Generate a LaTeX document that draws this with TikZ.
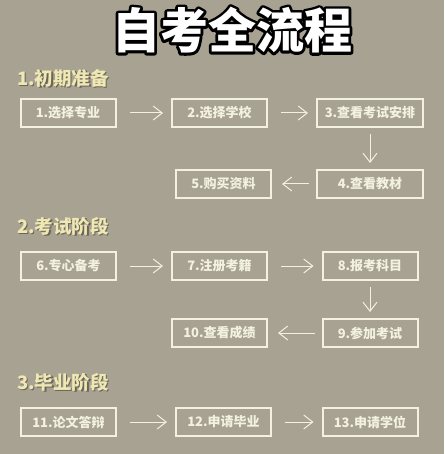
\documentclass[tikz,border=0pt]{standalone}
\usepackage{fontspec}
\usepackage{xcolor}
\usepackage{tikz}
\usetikzlibrary{arrows.meta,positioning}
\newfontfamily\cjk{Noto Sans CJK SC}
\newcommand\zkstroke[1]{\special{pdf:literal direct 2 Tr 5.5 w 1 j}#1\special{pdf:literal direct 0 Tr}}
\definecolor{zkBg}{HTML}{A7A292}
\definecolor{zkLine}{HTML}{F3F1E2}
\definecolor{zkGold}{HTML}{F0E8B4}
\definecolor{zkShadow}{HTML}{3A3428}
\tikzset{
  stepcard/.style={rectangle,draw=zkLine,line width=2pt,minimum width=95pt,minimum height=28pt,
    inner sep=0pt,text=zkLine,font=\cjk\bfseries\fontsize{13}{15}\selectfont},
  stepwide/.style={stepcard,minimum width=106pt},
  phasetitle/.style={anchor=west,inner sep=0pt,text=zkGold,font=\cjk\bfseries\fontsize{18.5}{22}\selectfont},
  phaseshade/.style={phasetitle,text=zkShadow,opacity=0.55},
  bigtitle/.style={inner sep=0pt,font=\cjk\bfseries\fontsize{48}{54}\selectfont},
  harrow/.style={-{Straight Barb[length=9pt,width=14pt]},draw=zkLine,line width=1pt,shorten <=13pt,shorten >=8pt},
  larrow/.style={harrow,shorten <=7pt,shorten >=10pt},
  varrow/.style={harrow,shorten <=6pt,shorten >=6pt}
}

\begin{document}
\begin{tikzpicture}[x=1pt,y=-1pt]
  \useasboundingbox (0,0) rectangle (444,454);
  \fill[zkBg] (0,0) rectangle (444,454);
  % title with black outline
  \node[bigtitle,text=black] (titleedge) at (232,30) {\zkstroke{自考全流程}};
  \node[bigtitle,text=white] (title) at (232,30) {自考全流程};
  % phase headings
  \node[phaseshade] (p1s) at (18.5,79.5) {1.初期准备};
  \node[phasetitle] (p1) at (17,78) {1.初期准备};
  \node[phaseshade] (p2s) at (18.5,227.5) {2.考试阶段};
  \node[phasetitle] (p2) at (17,226) {2.考试阶段};
  \node[phaseshade] (p3s) at (18.5,383.5) {3.毕业阶段};
  \node[phasetitle] (p3) at (17,382) {3.毕业阶段};
  % phase 1
  \node[stepcard] (s1) at (68,113) {1.选择专业};
  \node[stepcard] (s2) at (219.5,113) {2.选择学校};
  \node[stepwide] (s3) at (370,113) {3.查看考试安排};
  \node[stepwide] (s4) at (370,184) {4.查看教材};
  \node[stepcard] (s5) at (223.5,184) {5.购买资料};
  % phase 2
  \node[stepcard] (s6) at (68.5,266) {6.专心备考};
  \node[stepcard] (s7) at (219.5,266) {7.注册考籍};
  \node[stepcard] (s8) at (370,266) {8.报考科目};
  \node[stepcard] (s9) at (370,333) {9.参加考试};
  \node[stepcard] (s10) at (219.5,333) {10.查看成绩};
  % phase 3
  \node[stepcard] (s11) at (68.5,422) {11.论文答辩};
  \node[stepcard] (s12) at (223.5,422) {12.申请毕业};
  \node[stepcard] (s13) at (370,422) {13.申请学位};
  \draw[harrow] (s1) -- (s2);
  \draw[harrow] (s2) -- (s3);
  \draw[varrow] (s3) -- (s4);
  \draw[larrow] (s4) -- (s5);
  \draw[harrow] (s6) -- (s7);
  \draw[harrow] (s7) -- (s8);
  \draw[varrow] (s8) -- (s9);
  \draw[larrow] (s9) -- (s10);
  \draw[harrow] (s11) -- (s12);
  \draw[harrow] (s12) -- (s13);
\end{tikzpicture}
\end{document}
